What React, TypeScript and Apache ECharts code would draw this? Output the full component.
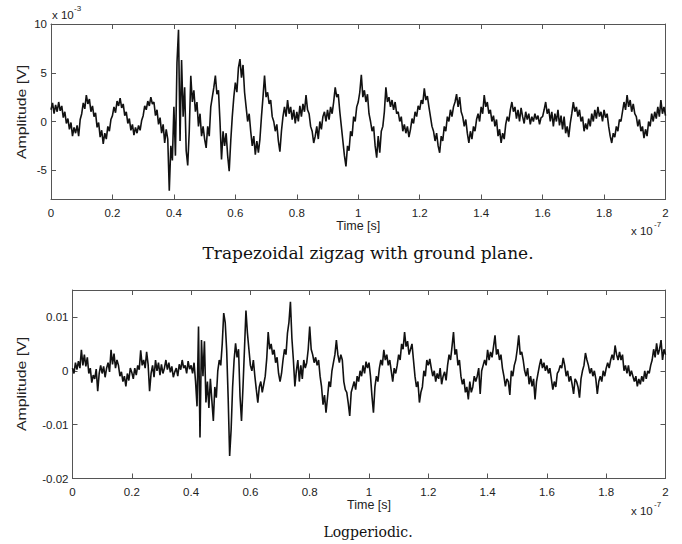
import React, { useEffect, useRef } from 'react';
import * as echarts from 'echarts';

// sampling step, in units of 1e-7 s
const TIME_STEP = 0.005;
const X_TICKS = [0, 0.2, 0.4, 0.6, 0.8, 1, 1.2, 1.4, 1.6, 1.8, 2];
const TOP_Y_TICKS = [-5, 0, 5, 10];
const BOTTOM_Y_TICKS = [-0.02, -0.01, 0, 0.01];

// Trapezoidal zigzag with ground plane, amplitude in 1e-3 V
const zigzag = [
  1.2, 1.9, 0.8, 1.7, 1.0, 2.0, 1.1, 1.6, 0.4, 1.0, -0.2, 0.3, -0.8, -0.1, -1.5, -0.6, -1.2, -0.4, -1.5, 0.2,
  0.8, 1.9, 1.3, 2.7, 1.8, 2.3, 1.0, 1.6, 0.5, 0.9, -0.6, -0.1, -1.6, -0.9, -2.3, -1.2, -1.8, -0.5, -1.0, 0.2,
  0.6, 1.5, 0.9, 2.1, 1.6, 2.4, 1.4, 1.8, 0.6, 1.0, -0.2, 0.3, -0.9, -0.3, -1.4, -0.6, -1.2, -0.4, -0.9, 0.1,
  0.6, 1.6, 1.2, 2.1, 1.6, 2.5, 1.8, 2.0, 0.6, 1.2, -0.3, 0.4, -1.2, -0.3, -2.2, -0.8, -1.8, -7.1, -2.5, -4.0,
  1.5, -3.5, 6.0, 9.4, -2.0, 6.3, 0.5, 3.5, -3.0, -4.5, -1.0, 4.7, 2.0, 3.2, 1.0, 2.0, -0.5, 0.8, -1.5, -0.5,
  -1.8, -2.7, -0.5, -1.5, 1.5, 2.5, 3.5, 4.7, 2.8, 3.2, 0.0, -3.9, -1.0, -2.5, -1.2, -3.5, -5.1, -2.0, 0.5, 2.5,
  4.0, 3.0, 5.5, 6.4, 4.5, 5.8, 3.0, 1.5, 0.0, 0.8, -1.0, -2.5, -1.5, -3.4, -2.0, -3.2, -1.8, 0.5, 2.5, 4.7,
  2.5, 3.0, 1.8, 2.2, 0.5, 0.0, -1.0, -0.3, -2.0, -3.1, -1.0, 0.5, 1.5, 0.5, 2.2, 0.8, 1.5, 0.2, 1.2, -0.2,
  1.0, 0.0, 1.6, 0.5, 1.8, 1.0, 2.7, 1.2, 0.8, -0.5, -1.0, -2.2, -1.5, -0.5, -1.8, 0.0, -0.8, 0.5, 1.0, 0.0,
  1.2, 0.2, 1.5, 0.8, 2.0, 3.5, 2.5, 2.8, 1.0, -0.5, -2.0, -3.5, -4.6, -2.5, -3.0, -1.0, -1.5, 0.5, 0.0, 1.5,
  2.0, 3.0, 4.8, 2.5, 3.2, 2.0, 2.8, 0.8, 0.0, -1.0, -0.5, -2.5, -3.7, -1.5, -3.2, -1.0, -0.5, 1.0, 3.5, 2.0,
  2.5, 1.5, 2.2, 1.2, 2.0, 0.8, 1.0, 0.0, 0.5, -1.0, -0.3, -1.2, -0.5, -1.6, -0.8, 0.3, -0.2, 1.0, 0.5, 1.6,
  1.2, 2.2, 1.8, 3.4, 2.2, 2.6, 1.5, 0.5, -0.5, -1.0, -2.0, -1.2, -2.5, -3.2, -1.5, -2.0, -0.5, -1.0, 0.5, 0.0,
  1.2, 0.5, 1.5, 2.0, 2.8, 1.5, 2.5, 1.0, 0.5, -0.5, 0.2, -1.2, -2.2, -1.0, -1.8, -0.5, -1.0, 0.2, 0.8, 0.0,
  1.5, 0.8, 2.7, 1.5, 2.0, 0.8, 1.2, 0.0, 0.6, -0.5, 0.2, -1.5, -0.8, -2.2, -1.2, -1.8, -0.3, 0.5, 0.0, 1.2,
  2.0, 1.0, 1.5, 0.3, 1.2, 0.0, 1.4, 0.5, -0.2, 1.0, 0.2, 0.8, -0.3, 0.5, 0.0, 0.8, 0.2, 0.6, -0.3, 0.4,
  0.5, 1.2, 2.0, 0.8, 1.3, 0.0, 1.0, -0.5, 0.8, 0.0, 1.2, -0.4, 0.6, -0.8, 0.5, -1.2, -0.5, -1.6, -0.2, 0.8,
  2.0, 1.0, 1.5, 0.5, 1.2, 0.0, 0.5, -1.0, -0.2, -0.8, 0.3, -0.5, 0.8, 0.0, 1.2, 0.3, 1.5, 0.5, 1.0, 0.0,
  1.2, 0.4, 0.8, -0.5, -1.5, -2.2, -1.2, -1.6, -0.5, -1.0, 0.2, 0.0, 1.0, 2.0, 1.2, 2.7, 1.5, 2.2, 1.0, 1.8,
  0.8, 0.5, -0.5, 0.2, -1.0, -0.5, -1.7, -0.8, -1.5, 0.0, -0.5, 0.8, 0.0, 1.0, 0.3, 1.5, 0.5, 2.2, 0.8, 1.5,
  0.6,
];

// Logperiodic, amplitude in mV
const logperiodicMv = [
  0.5, -0.5, 1.5, 0.2, 1.8, 0.5, 3.9, 1.0, 3.0, 0.8, 2.5, -0.5, 0.5, -2.2, -0.8, -1.5, 0.3, -3.8, -0.5, 1.0,
  -0.5, 0.8, -1.2, 0.5, 1.5, -0.2, 3.9, 1.2, 3.2, 0.5, 2.0, 1.0, -1.0, -0.2, -2.0, -1.0, -2.9, -0.5, -1.8, 0.5,
  -0.3, -1.5, 0.5, -0.8, 1.0, 0.2, 3.8, 1.0, 2.0, 0.5, 3.5, 1.2, -3.8, -0.5, 1.0, -1.2, 2.0, 0.0, 1.5, -0.8,
  1.2, -0.5, 0.5, 2.0, 0.2, 1.5, -0.3, 0.8, -1.2, -0.2, 0.5, -1.0, 1.2, 0.2, 2.0, 0.5, 1.0, -0.5, 1.8, 0.3,
  1.0, -0.5, 1.5, -2.0, -6.6, 8.2, -12.4, 5.7, -1.0, 5.5, -5.9, -2.0, -6.9, -1.5, -5.5, -9.3, -3.0, -5.0, 0.0, 2.0,
  1.0, 5.0, 10.7, 9.0, 3.8, -5.0, -15.8, -10.9, -3.0, 2.0, 5.1, 2.5, 4.0, -4.7, -9.3, -3.0, 4.0, 11.2, 7.0, 4.0,
  1.0, 0.0, 2.0, -1.0, -3.5, -5.9, -3.0, -2.0, -4.0, -2.5, -1.0, 2.2, 7.2, 4.0, 5.0, 3.0, 3.9, 1.5, 2.5, -0.5,
  -2.0, -0.5, 2.0, 4.0, 3.0, 7.0, 9.0, 12.8, 6.0, 2.0, -2.9, 0.0, 2.0, -2.0, 1.0, -1.5, 2.0, 0.5, 1.5, 4.0,
  8.2, 4.0, 3.0, 1.5, 2.5, 1.0, 2.0, -1.0, -3.0, -6.3, -4.5, -7.8, -5.0, -2.0, -3.0, 0.0, 1.5, 3.0, 5.7, 3.0,
  1.5, 3.0, 2.0, -2.0, -3.5, -4.0, -6.0, -8.4, -4.0, -3.0, -2.0, -3.5, -1.0, -2.0, 0.0, -1.0, 1.0, -0.5, 1.7, 0.5,
  1.5, -1.0, -4.7, -7.8, -3.0, -1.0, -2.0, 0.5, 2.0, 1.0, 3.9, 2.0, 3.0, 1.0, 2.0, 0.0, -2.0, 0.5, -0.5, 1.0,
  3.0, 2.0, 5.0, 4.0, 7.2, 4.5, 5.5, 3.0, 4.0, 5.0, 2.0, -1.0, -3.0, -2.0, -5.9, -4.0, -3.0, 0.0, -1.0, 2.0,
  1.0, 2.2, 0.5, -1.0, 0.0, -2.0, -0.5, -1.5, 0.5, -2.5, -1.0, -0.2, -1.8, 1.0, 3.0, 2.0, 4.5, 7.2, 3.0, 4.0,
  1.0, 2.0, -1.0, -2.5, -1.5, -4.0, -3.0, -5.3, -2.0, -4.0, -3.0, -1.0, -2.0, -1.0, 0.5, -4.3, 0.0, 1.0, 2.0, 1.0,
  3.9, 2.0, 3.5, 2.5, 4.5, 6.6, 3.0, 4.0, 2.0, 3.0, 0.5, -1.0, -2.9, -1.5, -2.0, -4.5, 0.0, -1.0, 1.0, 2.0,
  4.0, 6.6, 3.0, 3.5, 2.0, 0.0, -1.0, 0.5, -2.5, -1.0, -2.9, -1.5, -5.3, -2.0, -0.5, 1.0, 2.2, 0.5, 1.5, 0.0,
  1.0, -0.5, 0.5, -1.5, -3.5, -2.0, -3.0, -0.5, 0.0, 1.0, 0.5, 2.4, 1.0, -1.0, 0.0, -2.0, -1.0, -2.5, -4.3, -1.5,
  -2.0, -3.0, -5.0, -1.5, 0.0, 1.0, 3.3, 2.0, 1.0, -0.5, 0.5, -1.0, 0.0, -1.5, -4.3, -2.0, -1.0, -2.0, 0.0, -1.0,
  0.5, 1.5, 0.5, 2.0, 3.0, 2.0, 4.7, 3.0, 2.0, 3.5, 2.0, 3.0, 0.0, 1.0, -0.5, 1.0, -1.0, 0.0, -1.0, -2.0,
  -1.0, -2.9, -1.5, -2.5, -1.0, -2.0, 0.0, -1.5, 0.0, -0.5, 1.0, 2.0, 4.0, 2.5, 5.1, 3.0, 4.0, 5.7, 2.0, 4.0,
  3.0,
];

const SANS = "'Liberation Sans', Arial, Helvetica, sans-serif";
const SERIF = "'DejaVu Serif', serif";
const AXIS_COLOR = '#555';
const TEXT_COLOR = '#222';

function fmtX(v: number) {
  return String(Math.round(v * 10) / 10);
}

function xAxes(gridIndex: number, nameGap: number) {
  const common = {
    gridIndex,
    type: 'value' as const,
    min: 0,
    max: 2,
    interval: 0.2,
    splitLine: { show: false },
    axisLine: { show: true, onZero: false, lineStyle: { color: AXIS_COLOR, width: 1 } },
    axisTick: { show: true, inside: true, length: 5, lineStyle: { color: AXIS_COLOR } },
  };
  return [
    {
      ...common,
      position: 'bottom',
      axisLabel: { show: true, margin: 7, formatter: fmtX, color: TEXT_COLOR, fontSize: 11.5, fontFamily: SANS, customValues: X_TICKS },
      name: 'Time [s]',
      nameLocation: 'middle',
      nameGap,
      nameTextStyle: { color: TEXT_COLOR, fontSize: 12.5, fontFamily: SANS },
    },
    { ...common, position: 'top', axisLabel: { show: false } },
  ];
}

function yAxes(gridIndex: number, min: number, max: number, ticks: number[], fmt: (v: number) => string) {
  const common = {
    gridIndex,
    type: 'value' as const,
    min,
    max,
    splitLine: { show: false },
    axisLine: { show: true, onZero: false, lineStyle: { color: AXIS_COLOR, width: 1 } },
    axisTick: { show: true, inside: true, length: 5, customValues: ticks, lineStyle: { color: AXIS_COLOR } },
  };
  return [
    {
      ...common,
      position: 'left',
      axisLabel: { show: true, margin: 4, customValues: ticks, formatter: fmt, color: TEXT_COLOR, fontSize: 11.5, fontFamily: SANS },
    },
    { ...common, position: 'right', axisLabel: { show: false } },
  ];
}

export default function App() {
  const ref = useRef<HTMLDivElement>(null);

  useEffect(() => {
    document.body.style.margin = '0';
    if (!ref.current) return;
    const chart = echarts.init(ref.current, undefined, { renderer: 'svg' });

    const topData = zigzag.map((v, i) => [i * TIME_STEP, v]);
    const bottomData = logperiodicMv.map((v, i) => [i * TIME_STEP, v / 1000]);

    const supText = (text: string, left: number, top: number, size: number) => ({
      type: 'text',
      left,
      top,
      silent: true,
      style: { text, fill: TEXT_COLOR, font: `${size}px ${SANS}` },
    });

    const yName = (y: number) => ({
      type: 'text',
      x: 22,
      y,
      rotation: Math.PI / 2,
      scaleX: 1.32,
      silent: true,
      style: {
        text: 'Amplitude [V]',
        fill: TEXT_COLOR,
        font: `12px ${SANS}`,
        textAlign: 'center',
        align: 'center',
        textVerticalAlign: 'middle',
        verticalAlign: 'middle',
      },
    });

    const caption = (text: string, x: number, y: number, size: number) => ({
      type: 'text',
      x,
      y,
      silent: true,
      style: {
        text,
        fill: '#111',
        font: `${size}px ${SERIF}`,
        textAlign: 'center',
        align: 'center',
        textVerticalAlign: 'middle',
        verticalAlign: 'middle',
      },
    });

    chart.setOption({
      animation: false,
      backgroundColor: '#ffffff',
      grid: [
        { left: 51, right: 16.5, top: 24, height: 175.5, containLabel: false },
        { left: 72.5, right: 16.5, top: 290, height: 188.5, containLabel: false },
      ],
      xAxis: [...xAxes(0, 13), ...xAxes(1, 11)],
      yAxis: [
        ...yAxes(0, -8, 10, TOP_Y_TICKS, (v: number) => String(v)),
        ...yAxes(1, -0.02, 0.015, BOTTOM_Y_TICKS, (v: number) => String(v)),
      ],
      series: [
        {
          type: 'line',
          xAxisIndex: 0,
          yAxisIndex: 0,
          data: topData,
          showSymbol: false,
          symbol: 'none',
          lineStyle: { color: '#111', width: 1.6 },
          silent: true,
        },
        {
          type: 'line',
          xAxisIndex: 2,
          yAxisIndex: 2,
          data: bottomData,
          showSymbol: false,
          symbol: 'none',
          lineStyle: { color: '#111', width: 1.6 },
          silent: true,
        },
      ],
      graphic: [
        yName(112),
        yName(384),
        supText('x 10', 52, 9, 11.5),
        supText('-3', 74, 4, 8),
        supText('x 10', 631, 225, 11.5),
        supText('-7', 654, 220, 8),
        supText('x 10', 631, 505, 11.5),
        supText('-7', 654, 500, 8),
        caption('Trapezoidal zigzag with ground plane.', 368, 253, 17),
        caption('Logperiodic.', 368, 532, 14),
      ],
    });

    return () => chart.dispose();
  }, []);

  return <div ref={ref} style={{ width: 682, height: 544 }} />;
}
